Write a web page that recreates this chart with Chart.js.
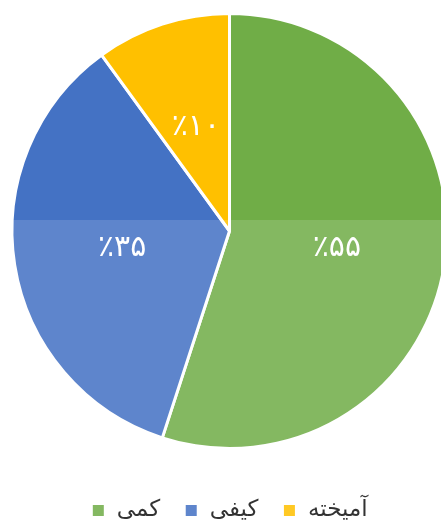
<!DOCTYPE html>
<html>
<head>
<meta charset="utf-8">
<script src="https://cdn.jsdelivr.net/npm/chart.js@4.4.0/dist/chart.umd.min.js"></script>
<style>
html, body { margin: 0; padding: 0; background: #fff; overflow: hidden; }
#wrap { width: 460px; height: 527px; }
</style>
</head>
<body>
<div id="wrap"><canvas id="chart" width="460" height="527"></canvas></div>
<script>
const categories = ['کمی', 'کیفی', 'آمیخته'];
const shares = [55, 35, 10];
const sliceColors = ['#70AD47', '#4472C4', '#FFC000'];

const faDigits = '۰۱۲۳۴۵۶۷۸۹';
function toPersian(n) {
    return String(n).replace(/\d/g, d => faDigits[d]);
}

// lighter wash over the lower part (page watermark) + percent labels
const sliceLabels = {
    id: 'sliceLabels',
    afterDatasetsDraw(chart) {
        const ctx = chart.ctx;
        const meta = chart.getDatasetMeta(0);
        ctx.save();
        ctx.fillStyle = 'rgba(255,255,255,0.14)';
        ctx.fillRect(0, 220, chart.width, chart.height - 220);

        ctx.fillStyle = '#fff';
        ctx.font = '30px "DejaVu Sans"';
        ctx.textAlign = 'center';
        ctx.textBaseline = 'middle';
        meta.data.forEach((arc, i) => {
            const p = arc.tooltipPosition();
            ctx.fillText('٪' + toPersian(shares[i]), p.x, p.y);
        });
        ctx.restore();
    }
};

const ctx = document.getElementById('chart').getContext('2d');
new Chart(ctx, {
    type: 'pie',
    data: {
        labels: categories,
        datasets: [{
            data: shares,
            backgroundColor: sliceColors,
            borderColor: '#fff',
            borderWidth: 3,
            hoverOffset: 0
        }]
    },
    options: {
        responsive: false,
        animation: false,
        layout: { padding: { left: 10, right: 11, top: 12, bottom: -5 } },
        plugins: {
            tooltip: { enabled: false },
            legend: {
                position: 'bottom',
                title: { display: true, text: '', font: { size: 25, lineHeight: 1 }, padding: 0 },
                labels: {
                    boxWidth: 14,
                    boxHeight: 14,
                    padding: 24,
                    color: '#111',
                    font: { family: '"DejaVu Sans"', size: 23 }
                }
            }
        }
    },
    plugins: [sliceLabels]
});
</script>
</body>
</html>
